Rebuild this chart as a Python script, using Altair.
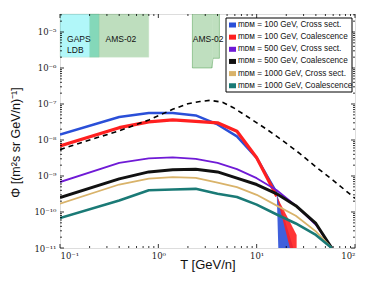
import altair as alt
import pandas as pd

# ---------------- data ----------------
T_grid = [0.1, 0.4, 0.8, 1.4, 2.4, 4.0, 6.3, 10, 16, 25, 40, 58]

series_labels = [
    "mᴅᴍ = 100 GeV, Cross sect.",
    "mᴅᴍ = 100 GeV, Coalescence",
    "mᴅᴍ = 500 GeV, Cross sect.",
    "mᴅᴍ = 500 GeV, Coalescence",
    "mᴅᴍ = 1000 GeV, Cross sect.",
    "mᴅᴍ = 1000 GeV, Coalescence",
]
series_colors = ["#2a4fd8", "#ff2020", "#6f1ad6", "#111111", "#d9b36a", "#1a7a76"]
series_widths = [2.5, 3.2, 1.8, 3.0, 1.8, 2.6]

phi_100_cs = [1.41e-8, 4.37e-8, 5.6e-8, 5.6e-8, 4.8e-8, 2.7e-8, 1.26e-8, 3.2e-9, 3.4e-10]
phi_100_co = [6.8e-9, 2.2e-8, 3.2e-8, 3.6e-8, 3.3e-8, 3.0e-8, 1.75e-8, 3.2e-9, 2.75e-10]
phi_500_cs = [6.8e-10, 2.3e-9, 3.1e-9, 3.3e-9, 3.0e-9, 2.3e-9, 1.55e-9, 8.7e-10, 4.0e-10, 1.5e-10, 4.4e-11, 1e-11]
phi_500_co = [2.5e-10, 8.3e-10, 1.3e-9, 1.5e-9, 1.55e-9, 1.3e-9, 8.7e-10, 5.8e-10, 3.2e-10, 1.5e-10, 4.8e-11, 1e-11]
phi_1000_cs = [1.7e-10, 5.8e-10, 8.5e-10, 9.3e-10, 8.9e-10, 6.5e-10, 4.9e-10, 3.0e-10, 1.5e-10, 7.9e-11, 2.9e-11, 1e-11]
phi_1000_co = [6.8e-11, 2.1e-10, 4.0e-10, 4.2e-10, 4.4e-10, 3.2e-10, 2.6e-10, 1.6e-10, 8.5e-11, 4.8e-11, 2.3e-11, 1e-11]
series_values = [phi_100_cs, phi_100_co, phi_500_cs, phi_500_co, phi_1000_cs, phi_1000_co]

# uncertainty bands at the high-energy cut-off of the 100 GeV curves
band_100_cs_T = [16, 16.6, 23.6]
band_100_cs_lo = [3.4e-10, 1e-11, 1e-11]
band_100_cs_hi = [3.4e-10, 2.4e-10, 1e-11]
band_100_co_T = [16, 21.8, 25.5]
band_100_co_lo = [2.75e-10, 1e-11, 1e-11]
band_100_co_hi = [2.75e-10, 5.3e-11, 2.3e-11]

# background (dashed)
bg_T = [0.1, 0.2, 0.4, 0.8, 1.4, 2.0, 2.65, 3.35, 4.5, 5.8, 8, 12.6, 18, 27.5, 40, 60, 100]
bg_phi = [5.4e-9, 1.0e-8, 1.8e-8, 3.6e-8, 7.1e-8, 1.02e-7, 1.17e-7, 1.26e-7, 1.12e-7,
          7.9e-8, 4.5e-8, 2.0e-8, 1.0e-8, 4.2e-9, 1.8e-9, 7.6e-10, 2.4e-10]

# sensitivity boxes
Y_TOP = 3.16e-5
box_names = ["GAPS", "AMS1"]
box_T1 = [0.1, 0.2]
box_T2 = [0.25, 0.80]
box_phi1 = [2.0e-6, 2.0e-6]
box_fill = ["#00e5ee", "#008000"]
box_opacity = [0.3, 0.25]

ams2_T1 = [2.22, 3.55]
ams2_T2 = [3.55, 4.18]
ams2_phi1 = [1.0e-6, 1.86e-6]
ams2_outline_T = [2.22, 2.22, 3.5, 3.6, 4.18, 4.18]
ams2_outline_phi = [Y_TOP, 1.0e-6, 1.0e-6, 1.86e-6, 1.86e-6, Y_TOP]

label_text = ["GAPS", "LDB", "AMS-02", "AMS-02"]
label_T = [0.118, 0.118, 0.29, 2.24]
label_phi = [6.4e-6, 3.2e-6, 6.4e-6, 6.4e-6]

x_major = [0.1, 1, 10, 100]
x_minor = [m * d for d in (0.1, 1, 10) for m in range(2, 10)]
y_major = [1e-11, 1e-10, 1e-9, 1e-8, 1e-7, 1e-6, 1e-5]
y_minor = [m * d for d in y_major for m in range(2, 10) if m * d < Y_TOP]

# ---------------- chart ----------------
W, H = 295, 234
xs = alt.Scale(type="log", domain=[0.1, 100], nice=False)
ys = alt.Scale(type="log", domain=[1e-11, Y_TOP], nice=False)

x_labels = "['10⁻¹','10⁰','10¹','10²'][round(log(datum.value)/LN10)+1]"
y_labels = ("['10⁻¹¹','10⁻¹⁰','10⁻⁹','10⁻⁸','10⁻⁷','10⁻⁶','10⁻⁵']"
            "[round(log(datum.value)/LN10)+11]")

xaxis = alt.Axis(values=x_major, labelExpr=x_labels, tickSize=0, domain=False, grid=False,
                 labelFont="DejaVu Serif", labelFontSize=8.5, labelPadding=3, labelColor="#222",
                 title="T [GeV/n]", titleFont="Liberation Sans", titleFontSize=13,
                 titleFontWeight="normal", titleY=10, titleBaseline="top", titleColor="#111")
yaxis = alt.Axis(values=y_major, labelExpr=y_labels, tickSize=0, domain=False, grid=False,
                 labelFont="DejaVu Serif", labelFontSize=8.5, labelPadding=4, labelColor="#222",
                 title="Φ [(m²s sr GeV/n)⁻¹]", titleFont="Liberation Sans", titleFontSize=12.5,
                 titleFontWeight="normal", titleX=-38, titleY=128, titleColor="#111")

X = lambda f="T": alt.X(f"{f}:Q", scale=xs, axis=xaxis)
Y = lambda f="Phi": alt.Y(f"{f}:Q", scale=ys, axis=yaxis)

color = alt.Color("s:N", scale=alt.Scale(domain=series_labels, range=series_colors), legend=None)

layers = []

# boxes
box_df = pd.DataFrame({"n": box_names, "T": box_T1, "T2": box_T2, "Phi": box_phi1,
                       "Phi2": [Y_TOP] * 2, "f": box_fill, "o": box_opacity})
layers.append(alt.Chart(box_df).mark_rect(stroke="#2e8b2e", strokeOpacity=0.35, strokeWidth=1).encode(
    x=X(), x2="T2:Q", y=Y(), y2="Phi2:Q",
    fill=alt.Fill("f:N", scale=None), opacity=alt.Opacity("o:Q", scale=None)))

ams2_df = pd.DataFrame({"T": ams2_T1, "T2": ams2_T2, "Phi": ams2_phi1, "Phi2": [Y_TOP] * 2})
layers.append(alt.Chart(ams2_df).mark_rect(fill="#008000", opacity=0.25).encode(
    x=X(), x2="T2:Q", y=Y(), y2="Phi2:Q"))
ams2o_df = pd.DataFrame({"T": ams2_outline_T, "Phi": ams2_outline_phi,
                         "i": list(range(len(ams2_outline_T)))})
layers.append(alt.Chart(ams2o_df).mark_line(color="#2e8b2e", opacity=0.4, strokeWidth=1).encode(
    x=X(), y=Y(), order="i:Q"))

lab_df = pd.DataFrame({"T": label_T, "Phi": label_phi, "t": label_text})
layers.append(alt.Chart(lab_df).mark_text(align="left", baseline="middle", font="Liberation Sans",
                                          fontSize=8.5, color="#111").encode(
    x=X(), y=Y(), text="t:N"))

# curves
bands = {0: (band_100_cs_T, band_100_cs_lo, band_100_cs_hi),
         1: (band_100_co_T, band_100_co_lo, band_100_co_hi)}
for i, (lab, vals, w) in enumerate(zip(series_labels, series_values, series_widths)):
    df = pd.DataFrame({"T": T_grid[:len(vals)], "Phi": vals, "s": lab})
    layers.append(alt.Chart(df).mark_line(strokeWidth=w, clip=True, strokeJoin="round").encode(
        x=X(), y=Y(), color=color))
    if i in bands:
        bT, blo, bhi = bands[i]
        bdf = pd.DataFrame({"T": bT, "Phi": blo, "Phi2": bhi, "s": lab})
        layers.append(alt.Chart(bdf).mark_area(opacity=0.9, clip=True).encode(
            x=X(), y=Y(), y2="Phi2:Q", color=color))

bg_df = pd.DataFrame({"T": bg_T, "Phi": bg_phi})
layers.append(alt.Chart(bg_df).mark_line(color="black", strokeDash=[5, 4], strokeWidth=1.6,
                                         clip=True).encode(x=X(), y=Y()))

# inward ticks on all four sides
def xticks(vals, length):
    df = pd.DataFrame({"T": vals})
    b = alt.Chart(df).mark_rule(color="black", strokeWidth=0.8).encode(
        x=X(), y=alt.value(H), y2=alt.value(H - length))
    t = alt.Chart(df).mark_rule(color="black", strokeWidth=0.8).encode(
        x=X(), y=alt.value(0), y2=alt.value(length))
    return [b, t]

def yticks(vals, length):
    df = pd.DataFrame({"Phi": vals})
    l = alt.Chart(df).mark_rule(color="black", strokeWidth=0.8).encode(
        y=Y(), x=alt.value(0), x2=alt.value(length))
    r = alt.Chart(df).mark_rule(color="black", strokeWidth=0.8).encode(
        y=Y(), x=alt.value(W), x2=alt.value(W - length))
    return [l, r]

layers += xticks(x_major, 4) + xticks(x_minor, 2) + yticks(y_major, 4) + yticks(y_minor, 2)

# legend (upper right, framed)
LEG_X0, LEG_X1, LEG_Y0, LEG_Y1 = 166, 292, 4, 78
ROW0, ROW_STEP = 11, 12.15
one = pd.DataFrame({"k": [0]})
layers.append(alt.Chart(one).mark_rect(fill="white", stroke="black", strokeWidth=1).encode(
    x=alt.value(LEG_X0), x2=alt.value(LEG_X1), y=alt.value(LEG_Y0), y2=alt.value(LEG_Y1)))
for i, (lab, col) in enumerate(zip(series_labels, series_colors)):
    yy = ROW0 + ROW_STEP * i
    layers.append(alt.Chart(one).mark_rect(fill=col).encode(
        x=alt.value(LEG_X0 + 3), x2=alt.value(LEG_X0 + 10),
        y=alt.value(yy - 2.5), y2=alt.value(yy + 2.5)))
    layers.append(alt.Chart(one).mark_text(align="left", baseline="middle", font="Liberation Sans",
                                           fontSize=8.2, color="#111").encode(
        x=alt.value(LEG_X0 + 12), y=alt.value(yy), text=alt.value(lab)))

chart = alt.layer(*layers).properties(
    width=W, height=H,
    autosize=alt.AutoSizeParams(type="none"),
    padding={"left": 52, "top": 6, "right": 10, "bottom": 37},
).configure_view(stroke="black", strokeWidth=1.2).configure(background="white")

chart.save("out.html", embed_options={"renderer": "svg", "actions": False})
